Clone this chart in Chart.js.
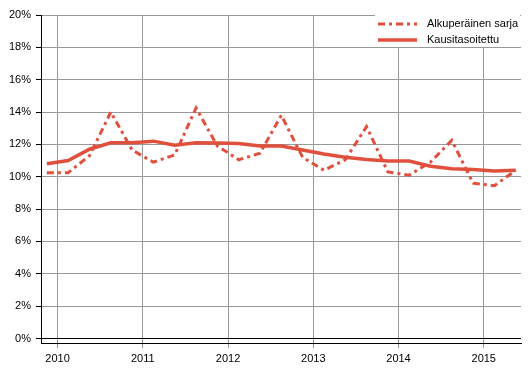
<!DOCTYPE html>
<html>
<head>
<meta charset="utf-8">
<script src="https://cdn.jsdelivr.net/npm/chart.js@4/dist/chart.umd.min.js"></script>
<style>
    html, body { margin: 0; padding: 0; background: #fff; }
    #wrap { width: 529px; height: 378px; position: relative; }
</style>
</head>
<body>
<div id="wrap"><canvas id="myChart"></canvas></div>
<script>
// quarterly data, 2009Q4 .. 2015Q2
var quarters = ['2009Q4',
    '2010Q1', '2010Q2', '2010Q3', '2010Q4',
    '2011Q1', '2011Q2', '2011Q3', '2011Q4',
    '2012Q1', '2012Q2', '2012Q3', '2012Q4',
    '2013Q1', '2013Q2', '2013Q3', '2013Q4',
    '2014Q1', '2014Q2', '2014Q3', '2014Q4',
    '2015Q1', '2015Q2'];
var original = [10.25,
    10.25, 11.3, 14.0, 11.65,
    10.9, 11.35, 14.25, 11.9,
    11.05, 11.45, 13.8, 11.2,
    10.4, 11.05, 13.1, 10.3,
    10.1, 10.9, 12.25, 9.6,
    9.45, 10.4];
var adjusted = [10.8,
    11.0, 11.7, 12.1, 12.1,
    12.2, 11.95, 12.1, 12.08,
    12.05, 11.9, 11.9, 11.65,
    11.4, 11.2, 11.07, 10.97,
    10.97, 10.65, 10.5, 10.45,
    10.35, 10.4];
var years = [2010, 2011, 2012, 2013, 2014, 2015];
var yTicks = [0, 2, 4, 6, 8, 10, 12, 14, 16, 18, 20];
var seriesNames = ['Alkuperäinen sarja', 'Kausitasoitettu'];

var lineColor = '#e0503c';
var dashStyle = [7, 4, 3, 4];

function quarterToX(q) {
    var y = parseInt(q.substr(0, 4));
    var n = parseInt(q.substr(5, 1));
    return y + (n - 0.5) / 4;
}
function toPoints(values) {
    return values.map(function (v, i) {
        return { x: quarterToX(quarters[i]), y: v };
    });
}

var legendInside = {
    id: 'legendInside',
    afterDraw: function (chart) {
        var ctx = chart.ctx;
        var area = chart.chartArea;
        ctx.save();
        ctx.fillStyle = '#fff';
        ctx.fillRect(375, area.top, area.right - 375 - 1, 32);
        var items = [{ dash: dashStyle, w: 3 }, { dash: [], w: 3.5 }];
        items.forEach(function (it, i) {
            var y = 24 + i * 16;
            ctx.beginPath();
            ctx.strokeStyle = lineColor;
            ctx.lineWidth = it.w;
            ctx.setLineDash(it.dash);
            ctx.moveTo(378, y);
            ctx.lineTo(417, y);
            ctx.stroke();
            ctx.setLineDash([]);
            ctx.fillStyle = '#000';
            ctx.font = '11px "Liberation Sans", Arial, sans-serif';
            ctx.textBaseline = 'middle';
            ctx.textAlign = 'left';
            ctx.fillText(seriesNames[i], 427, y);
        });
        ctx.restore();
    }
};

new Chart(document.getElementById('myChart'), {
    type: 'line',
    data: {
        datasets: [{
            label: seriesNames[0],
            data: toPoints(original),
            borderColor: lineColor,
            borderWidth: 3,
            borderDash: dashStyle,
            pointRadius: 0,
            fill: false,
            tension: 0
        }, {
            label: seriesNames[1],
            data: toPoints(adjusted),
            borderColor: lineColor,
            borderWidth: 3.5,
            pointRadius: 0,
            fill: false,
            tension: 0
        }]
    },
    options: {
        responsive: true,
        maintainAspectRatio: false,
        animation: false,
        layout: { padding: { top: 15, right: 8, left: 0, bottom: 0 } },
        plugins: {
            legend: { display: false },
            tooltip: { enabled: false }
        },
        scales: {
            x: {
                type: 'linear',
                min: 2009.806,
                max: 2015.437,
                afterBuildTicks: function (scale) {
                    scale.ticks = years.map(function (v) { return { value: v }; });
                },
                afterFit: function (scale) { scale.height = 35; },
                ticks: {
                    autoSkip: false,
                    maxRotation: 0,
                    padding: 4,
                    color: '#000',
                    font: { family: '"Liberation Sans", Arial, sans-serif', size: 11 },
                    callback: function (v) { return String(v); }
                },
                grid: {
                    color: '#999',
                    tickColor: '#999',
                    tickLength: 5,
                    drawOnChartArea: true
                },
                border: { color: '#000', width: 1 }
            },
            y: {
                min: -0.28,
                max: 20,
                afterBuildTicks: function (scale) {
                    scale.ticks = yTicks.map(function (v) { return { value: v }; });
                },
                afterFit: function (scale) { scale.width = 41; },
                ticks: {
                    padding: 5,
                    color: '#000',
                    font: { family: '"Liberation Sans", Arial, sans-serif', size: 11 },
                    callback: function (v) { return v + '%'; }
                },
                grid: {
                    color: function (c) { return c.tick && c.tick.value === 0 ? '#000' : '#999'; },
                    tickColor: '#000',
                    tickLength: 5
                },
                border: { color: '#000', width: 1 }
            }
        }
    },
    plugins: [legendInside]
});
</script>
</body>
</html>
